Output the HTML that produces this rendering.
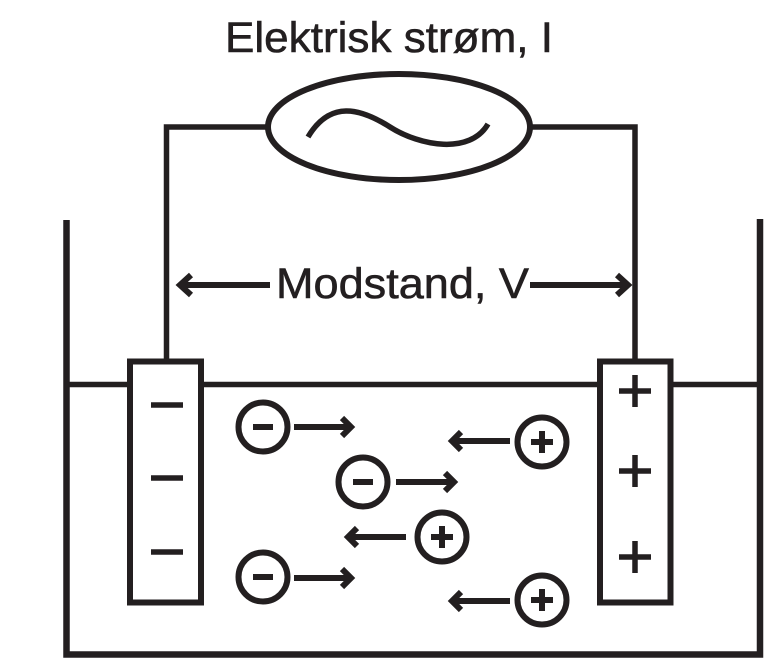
<!DOCTYPE html>
<html><head><meta charset="utf-8"><style>
html,body{margin:0;padding:0;background:#fff;width:772px;height:666px;overflow:hidden}
svg{display:block}
text{font-family:"Liberation Sans",sans-serif;fill:#231f20}
</style></head><body>
<svg width="772" height="666" viewBox="0 0 772 666" xmlns="http://www.w3.org/2000/svg">
<g stroke="#231f20" fill="none">
 <path d="M66.5 220 V654.5 H760 V219" stroke-width="6.5"/>
 <path d="M66.5 384.5 H130 M201 384.5 H600 M670 384.5 H760" stroke-width="5.5"/>
 <rect x="130" y="361.5" width="71" height="241" stroke-width="6" fill="#fff"/>
 <rect x="600" y="361.5" width="70.5" height="241" stroke-width="6" fill="#fff"/>
 <path d="M166.5 359 V127 H268 M530 127 H635 V359" stroke-width="5.5"/>
 <ellipse cx="399" cy="127" rx="131" ry="53" stroke-width="6" fill="#fff"/>
 <path d="M308 137 C330 100, 360 108, 390 127 S470 155, 488 124" stroke-width="5.5"/>
 <path d="M151 405 H183 M151 478 H183 M151 552 H183" stroke-width="5.5"/>
 <path d="M619 391 H651 M635 375 V407 M619 471 H651 M635 455 V487 M619 557 H651 M635 541 V573" stroke-width="5.5"/>
 <path d="M181 285 H270 M530 285 H627" stroke-width="6"/>
 <path d="M191 275 L180 285 L191 295 M617 275 L628 285 L617 295" stroke-width="6"/>
 <g stroke-width="6">
  <circle cx="263" cy="427" r="24.5"/><path d="M253 427 H273"/>
  <circle cx="363" cy="482" r="24.5"/><path d="M353 482 H373"/>
  <circle cx="263" cy="577" r="24.5"/><path d="M253 577 H273"/>
  <circle cx="542" cy="442" r="24.5"/><path d="M531 442 H553 M542 431 V453"/>
  <circle cx="442" cy="537" r="24.5"/><path d="M431 537 H453 M442 526 V548"/>
  <circle cx="542" cy="600" r="24.5"/><path d="M531 600 H553 M542 589 V611"/>
  <path d="M294 427 H350 M342 418 L351 427 L342 436"/>
  <path d="M396 482 H453 M445 473 L454 482 L445 491"/>
  <path d="M294 578 H350 M342 569 L351 578 L342 587"/>
  <path d="M453 441 H510 M461 432 L452 441 L461 450"/>
  <path d="M349 537 H406 M357 528 L348 537 L357 546"/>
  <path d="M453 601 H510 M461 592 L452 601 L461 610"/>
 </g>
</g>
<text x="225" y="52" font-size="43" textLength="328" lengthAdjust="spacingAndGlyphs" stroke="#231f20" stroke-width="0.6">Elektrisk strøm, I</text>
<text x="276" y="298" font-size="43" textLength="253" lengthAdjust="spacingAndGlyphs" stroke="#231f20" stroke-width="0.6">Modstand, V</text>
</svg>
</body></html>
